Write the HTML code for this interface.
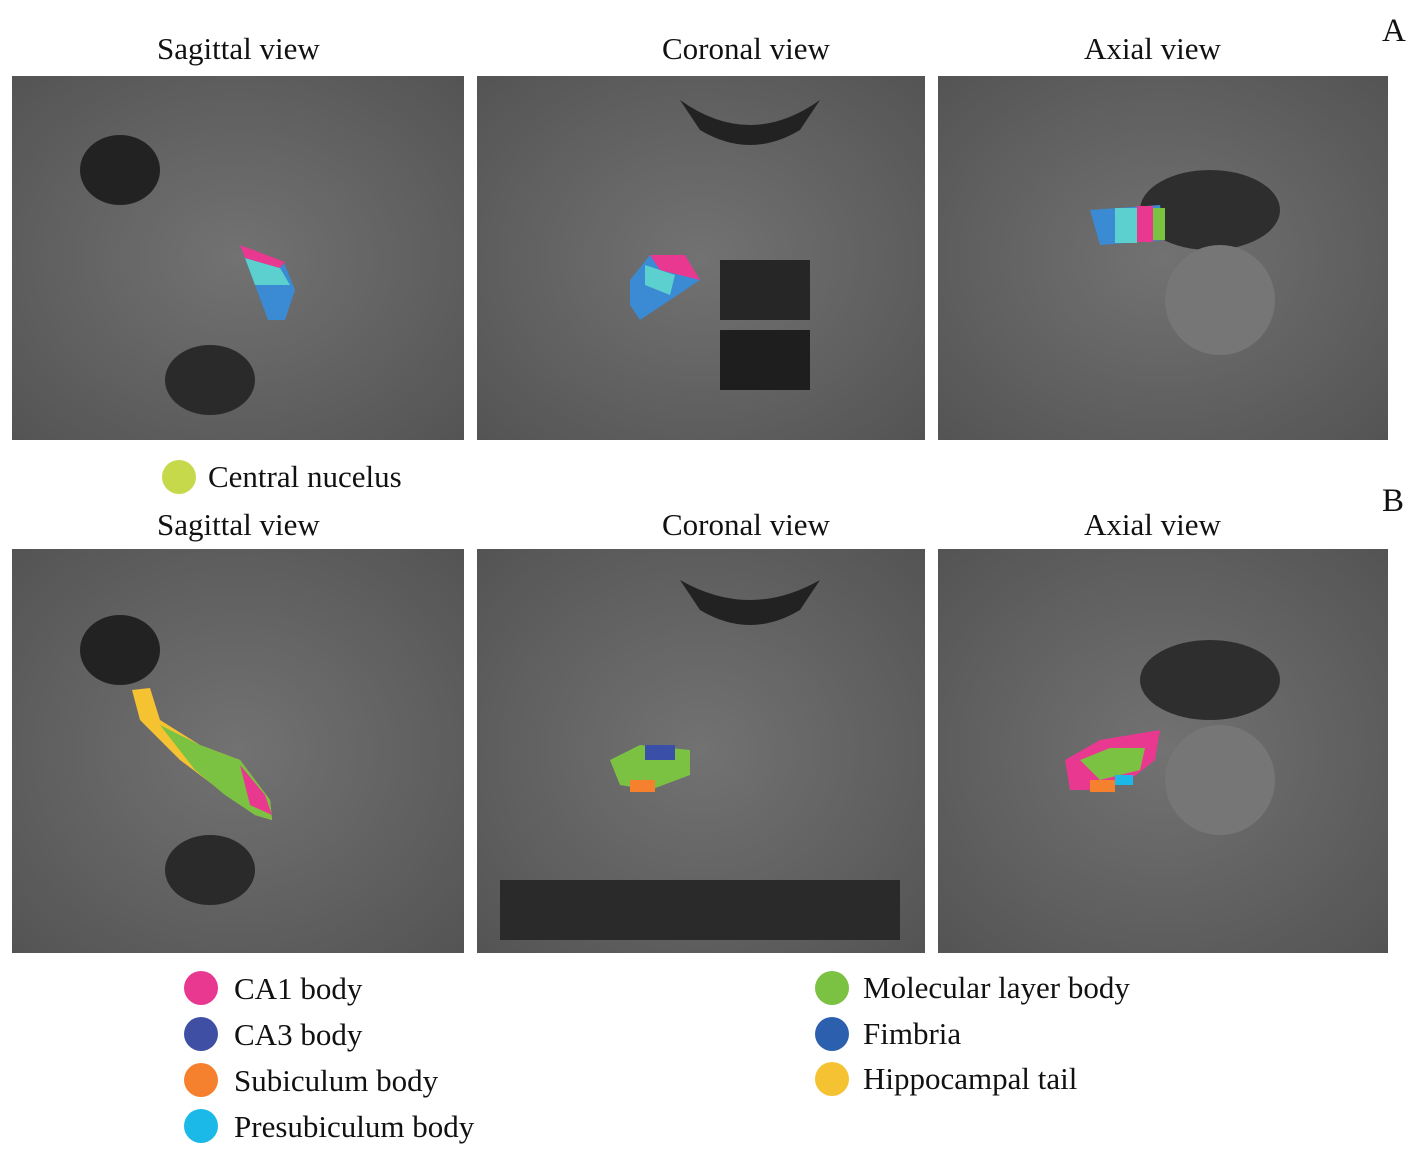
<!DOCTYPE html>
<html><head><style>
body{margin:0;width:1418px;height:1158px;background:#fff;position:relative;font-family:"Liberation Serif",serif;color:#111;overflow:hidden}
.t{position:absolute;font-size:31px;white-space:nowrap;line-height:36px}
.c{position:absolute;width:34px;height:34px;border-radius:50%}
</style></head><body>
<div class="t" style="left:157px;top:31px">Sagittal view</div>
<div class="t" style="left:662px;top:31px">Coronal view</div>
<div class="t" style="left:1084px;top:31px">Axial view</div>
<div class="t" style="left:1382px;top:13px;font-size:33px">A</div>
<div class="t" style="left:157px;top:507px">Sagittal view</div>
<div class="t" style="left:662px;top:507px">Coronal view</div>
<div class="t" style="left:1084px;top:507px">Axial view</div>
<div class="t" style="left:1382px;top:483px;font-size:33px">B</div>

<svg style="position:absolute;left:0;top:0" width="1418" height="1158">
<defs>
<radialGradient id="g" cx="50%" cy="50%" r="70%"><stop offset="0" stop-color="#727272"/><stop offset="1" stop-color="#545454"/></radialGradient>
</defs>
<rect x="12" y="76" width="452" height="364" fill="url(#g)"/>
<rect x="477" y="76" width="448" height="364" fill="url(#g)"/>
<rect x="938" y="76" width="450" height="364" fill="url(#g)"/>
<rect x="12" y="549" width="452" height="404" fill="url(#g)"/>
<rect x="477" y="549" width="448" height="404" fill="url(#g)"/>
<rect x="938" y="549" width="450" height="404" fill="url(#g)"/>
<ellipse cx="120" cy="170" rx="40" ry="35" fill="#222"/>
<ellipse cx="210" cy="380" rx="45" ry="35" fill="#2a2a2a"/>
<path d="M680 100 Q750 150 820 100 L800 130 Q750 160 700 130Z" fill="#222"/>
<rect x="720" y="260" width="90" height="60" fill="#262626"/>
<rect x="720" y="330" width="90" height="60" fill="#1e1e1e"/>
<ellipse cx="1210" cy="210" rx="70" ry="40" fill="#2e2e2e"/>
<ellipse cx="1220" cy="300" rx="55" ry="55" fill="#767676"/>
<ellipse cx="120" cy="650" rx="40" ry="35" fill="#222"/>
<ellipse cx="210" cy="870" rx="45" ry="35" fill="#2a2a2a"/>
<path d="M680 580 Q750 620 820 580 L800 610 Q750 640 700 610Z" fill="#222"/>
<rect x="500" y="880" width="400" height="60" fill="#2a2a2a"/>
<ellipse cx="1210" cy="680" rx="70" ry="40" fill="#2e2e2e"/>
<ellipse cx="1220" cy="780" rx="55" ry="55" fill="#767676"/>
<path d="M240 245 L285 265 L295 290 L285 320 L268 320 L255 285Z" fill="#3a8ad4"/>
<path d="M245 258 L280 268 L290 285 L255 285Z" fill="#5ccfcf"/>
<path d="M240 245 L285 262 L280 268 L245 258Z" fill="#e8388f"/>
<path d="M630 280 L650 255 L685 255 L700 280 L670 300 L640 320 L630 305Z" fill="#3a8ad4"/>
<path d="M650 255 L685 255 L700 280 L660 270Z" fill="#e8388f"/>
<path d="M645 265 L675 275 L670 295 L645 285Z" fill="#5ccfcf"/>
<path d="M1090 210 L1160 205 L1165 240 L1100 245Z" fill="#3a8ad4"/>
<rect x="1115" y="208" width="22" height="35" fill="#5ccfcf"/>
<rect x="1137" y="206" width="16" height="36" fill="#e8388f"/>
<rect x="1153" y="208" width="12" height="32" fill="#7cc242"/>
<path d="M132 690 L150 688 L160 720 L200 745 L240 760 L270 800 L272 820 L255 815 L220 790 L180 760 L140 720Z" fill="#f5c232"/>
<path d="M160 725 L200 745 L240 760 L270 800 L272 820 L255 815 L225 795 L195 770Z" fill="#7cc242"/>
<path d="M240 765 L265 795 L272 815 L250 805Z" fill="#e8388f"/>
<path d="M610 760 L640 745 L690 750 L690 775 L650 790 L620 785Z" fill="#7cc242"/>
<rect x="645" y="745" width="30" height="15" fill="#3a50a8"/>
<rect x="630" y="780" width="25" height="12" fill="#f5812e"/>
<path d="M1065 760 L1100 740 L1160 730 L1155 760 L1130 780 L1090 790 L1070 790Z" fill="#e8388f"/>
<path d="M1080 760 L1110 748 L1145 748 L1140 770 L1100 780Z" fill="#7cc242"/>
<rect x="1090" y="780" width="25" height="12" fill="#f5812e"/>
<rect x="1115" y="775" width="18" height="10" fill="#1ab9e8"/>
</svg>

<div class="c" style="left:162px;top:460px;background:#c5d94a"></div>
<div class="t" style="left:208px;top:459px">Central nucelus</div>

<div class="c" style="left:184px;top:971px;background:#e8388f"></div>
<div class="t" style="left:234px;top:971px">CA1 body</div>
<div class="c" style="left:184px;top:1017px;background:#3f4fa3"></div>
<div class="t" style="left:234px;top:1017px">CA3 body</div>
<div class="c" style="left:184px;top:1063px;background:#f5812e"></div>
<div class="t" style="left:234px;top:1063px">Subiculum body</div>
<div class="c" style="left:184px;top:1109px;background:#1ab9e8"></div>
<div class="t" style="left:234px;top:1109px">Presubiculum body</div>

<div class="c" style="left:815px;top:971px;background:#7cc242"></div>
<div class="t" style="left:863px;top:970px">Molecular layer body</div>
<div class="c" style="left:815px;top:1017px;background:#2c5fae"></div>
<div class="t" style="left:863px;top:1016px">Fimbria</div>
<div class="c" style="left:815px;top:1062px;background:#f5c232"></div>
<div class="t" style="left:863px;top:1061px">Hippocampal tail</div>
</body></html>
